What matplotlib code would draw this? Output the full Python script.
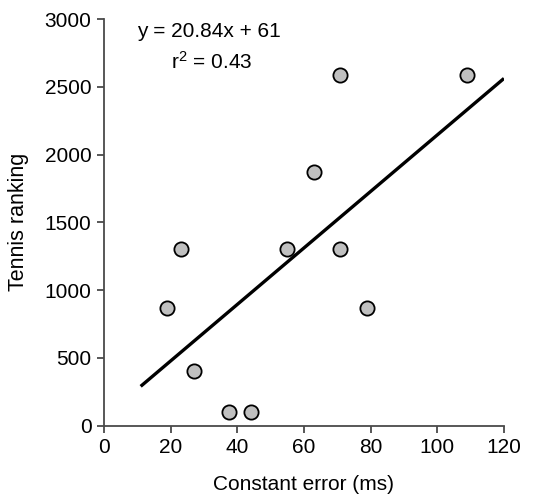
import matplotlib
matplotlib.use('Agg')
import matplotlib.pyplot as plt
import numpy as np

plt.rcParams['font.family'] = ['Liberation Sans', 'DejaVu Sans']
plt.rcParams['mathtext.fontset'] = 'custom'
plt.rcParams['mathtext.rm'] = 'Liberation Sans'
plt.rcParams['mathtext.it'] = 'Liberation Sans'

# constant error (ms) vs tennis ranking
constant_error = [19, 23, 27, 37.5, 44, 55, 63, 70.7, 70.8, 79, 109]
ranking = [871, 1300, 400, 100, 100, 1300, 1870, 2590, 1300, 871, 2590]

slope = 20.84
intercept = 61
fit_x = [11, 120]

x_ticks = [0, 20, 40, 60, 80, 100, 120]
y_ticks = [0, 500, 1000, 1500, 2000, 2500, 3000]

fig = plt.figure(figsize=(5.4, 4.94), dpi=100)
ax = fig.add_axes([0.1926, 0.1383, 0.7407, 0.8232])

fx = np.array(fit_x)
ax.plot(fx, slope * fx + intercept, color='black', linewidth=2.4, solid_capstyle='butt', zorder=2)
ax.scatter(constant_error, ranking, s=105, facecolor='#c0c0c0', edgecolor='black',
           linewidth=1.3, zorder=3, clip_on=False)

ax.set_xlim(0, 120)
ax.set_ylim(0, 3000)
ax.set_xticks(x_ticks)
ax.set_yticks(y_ticks)

for side in ['top', 'right']:
    ax.spines[side].set_visible(False)
for side in ['left', 'bottom']:
    ax.spines[side].set_color('#4a4a4a')
    ax.spines[side].set_linewidth(1.3)
ax.tick_params(direction='out', length=5, width=1.3, color='#4a4a4a', labelsize=15, pad=4)

ax.set_xlabel('Constant error (ms)', fontsize=15, labelpad=13)
ax.set_ylabel('Tennis ranking', fontsize=15.5, labelpad=11)

ax.text(9.9, 2910, 'y = 20.84x + 61', fontsize=15, va='center', ha='left')
ax.text(20.2, 2685, r'r$^2$ = 0.43', fontsize=15, va='center', ha='left')

fig.savefig('out.png', dpi=100, facecolor='white')
